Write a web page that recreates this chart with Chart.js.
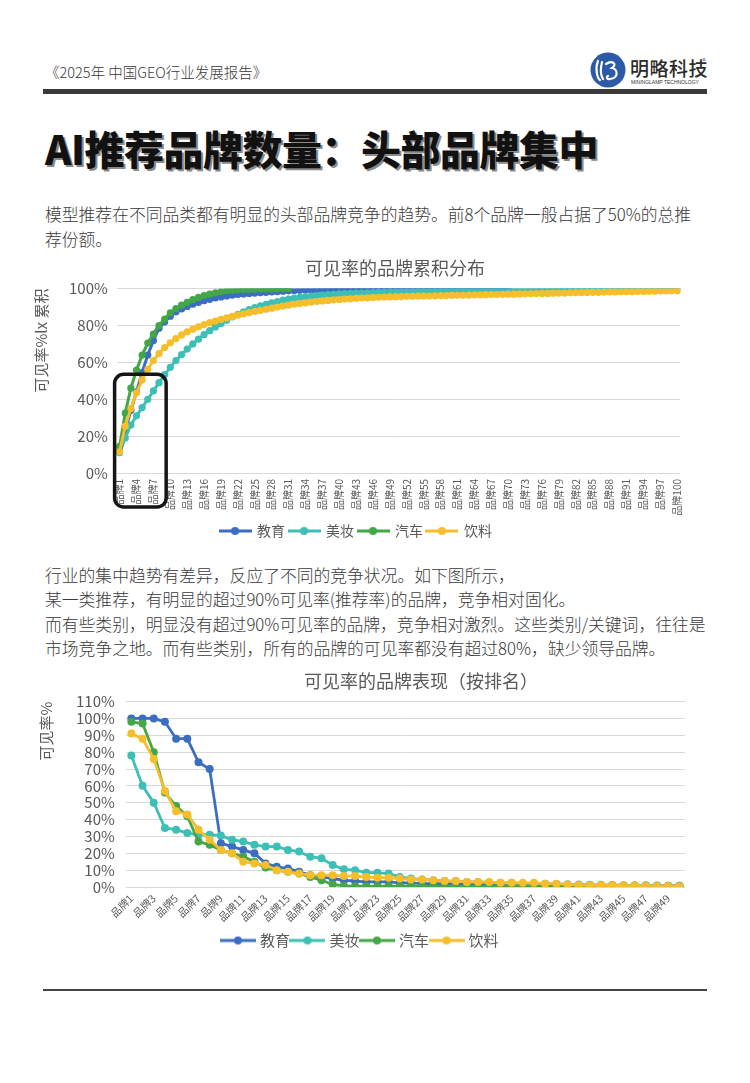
<!DOCTYPE html>
<html lang="zh-CN">
<head>
<meta charset="utf-8">
<title>可见率的品牌分布</title>
<script src="https://cdn.jsdelivr.net/npm/chart.js@4.4.1/dist/chart.umd.min.js"></script>
<style>
  html, body { margin: 0; padding: 0; background: #fff; }
  body {
    width: 750px; height: 1083px; position: relative; overflow: hidden;
    font-family: "Noto Sans CJK SC", "Noto Sans", sans-serif; color: #3a3a3a;
  }
  .report { position: absolute; left: 45px; top: 62px; font-size: 14.5px; line-height: 20px; font-weight: 300; color: #3a3a3a; }
  .logo { position: absolute; left: 590px; top: 52px; }
  .logo-name { position: absolute; left: 630px; top: 56px; font-size: 19px; line-height: 24px; font-weight: 500; color: #2b2b2b; letter-spacing: 0.5px; }
  .logo-reg { position: absolute; left: 702px; top: 55px; font-size: 8px; color: #555; }
  .logo-en { position: absolute; left: 631px; top: 80px; font-size: 10px; line-height: 10px; color: #333; transform: scale(0.5); transform-origin: left top; white-space: nowrap; font-family: "Liberation Sans", sans-serif; }
  .topbar { position: absolute; left: 43px; top: 89px; width: 664px; height: 5px; background: #3a3a3a; }
  h1 {
    position: absolute; left: 45px; top: 124px; margin: 0; font-size: 40px; line-height: 48px;
    font-weight: 900; letter-spacing: -0.5px; color: #111; text-shadow: 2px 2px 0 #8a8a8a; white-space: nowrap;
  }
  .para { position: absolute; left: 45px; margin: 0; font-size: 16.8px; font-weight: 300; color: #3a3a3a; white-space: nowrap; }
  .p1 { top: 202px; line-height: 25px; }
  .p2 { top: 563px; line-height: 24.3px; }
  canvas.chart { position: absolute; }
  #cumChart { left: 20px; top: 255px; }
  #rankChart { left: 20px; top: 668px; }
  .footrule { position: absolute; left: 43px; top: 989px; width: 664px; height: 1.5px; background: #444; }
</style>
</head>
<body>
<div class="report">《2025年 中国GEO行业发展报告》</div>
<svg class="logo" width="36" height="36" viewBox="0 0 36 36">
  <circle cx="18" cy="18" r="17.5" fill="#2c5aa6"/>
  <path d="M8 9 C5 16, 7 26, 10 28 M12 10 C10 18, 11 24, 13 27 M16 12 C22 8, 28 12, 22 16 C28 17, 29 26, 20 27 C17 28, 16 25, 18 24"
        fill="none" stroke="#fff" stroke-width="2.2" stroke-linecap="round"/>
</svg>
<div class="logo-name">明略科技</div>
<div class="logo-reg">®</div>
<div class="logo-en">MININGLAMP TECHNOLOGY</div>
<div class="topbar"></div>

<h1>AI推荐品牌数量：头部品牌集中</h1>

<p class="para p1">模型推荐在不同品类都有明显的头部品牌竞争的趋势。前8个品牌一般占据了50%的总推<br>荐份额。</p>

<canvas id="cumChart" class="chart" width="676" height="293"></canvas>

<p class="para p2">行业的集中趋势有差异，反应了不同的竞争状况。如下图所示，<br>某一类推荐，有明显的超过90%可见率(推荐率)的品牌，竞争相对固化。<br>而有些类别，明显没有超过90%可见率的品牌，竞争相对激烈。这些类别/关键词，往往是<br>市场竞争之地。而有些类别，所有的品牌的可见率都没有超过80%，缺少领导品牌。</p>

<canvas id="rankChart" class="chart" width="676" height="290"></canvas>

<div class="footrule"></div>

<script>
/* ─── DATA ───────────────────────────────────────────── */
const seriesNames = ["教育", "美妆", "汽车", "饮料"];
const seriesColors = ["#3b6dc1", "#3dbfb6", "#43a747", "#f6be2b"];

// chart 1: cumulative share of visibility (%), brands ranked 1..100
const cumBrands = Array.from({ length: 100 }, (_, i) => "品牌" + (i + 1));
const cumEdu = [
  12, 23, 34, 44, 54.5, 64, 71.8, 78.5, 82, 85,
  87.5, 89, 90.3, 91.5, 92.5, 93.4, 94.2, 94.9, 95.5, 96,
  96.4, 96.8, 97.1, 97.4, 97.6, 97.8, 98, 98.2, 98.4, 98.6,
  98.8, 99, 99.1, 99.2, 99.3, 99.3, 99.4, 99.4, 99.5, 99.5,
  99.6, 99.6, 99.6, 99.7, 99.7, 99.7, 99.7, 99.8, 99.8, 99.8,
  99.8, 99.8, 99.8, 99.9, 99.9, 99.9, 99.9, 99.9, 99.9, 99.9,
  99.9, 100, 100, 100, 100, 100, 100, 100, 100, 100
];
const cumCos = [
  11, 19, 26, 31, 35.5, 40, 44.5, 49, 53.4, 57.3,
  61, 64.2, 67.2, 70, 72.6, 75, 77.2, 79.2, 81.1, 82.9,
  84.6, 86.1, 87.4, 88.6, 89.7, 90.6, 91.5, 92.3, 93, 93.7,
  94.3, 94.8, 95.2, 95.6, 95.9, 96.2, 96.5, 96.7, 96.9, 97.1,
  97.3, 97.4, 97.5, 97.6, 97.7, 97.8, 97.9, 98, 98.1, 98.2,
  98.3, 98.3, 98.4, 98.4, 98.5, 98.5, 98.6, 98.6, 98.7, 98.7,
  98.8, 98.8, 98.9, 98.9, 99, 99, 99, 99.1, 99.1, 99.2,
  99.2, 99.3, 99.3, 99.3, 99.4, 99.4, 99.4, 99.5, 99.5, 99.5,
  99.5, 99.6, 99.6, 99.6, 99.6, 99.7, 99.7, 99.7, 99.7, 99.8,
  99.8, 99.8, 99.8, 99.9, 99.9, 99.9, 99.9, 100, 100, 100
];
const cumCar = [
  14.5, 32.5, 46, 55.8, 64, 70.5, 75.3, 80, 83.5, 86.8,
  89.1, 91, 92.6, 94, 95.2, 96.2, 97, 97.7, 98.3, 98.8,
  99.1, 99.3, 99.5, 99.6, 99.7, 99.8, 99.8, 99.9, 99.9, 100,
  100
];
const cumBev = [
  11.5, 25.4, 35, 43.5, 50.5, 56.2, 61, 64.8, 68, 70.6,
  72.9, 74.9, 76.6, 78, 79.3, 80.5, 81.5, 82.4, 83.3, 84.1,
  84.9, 85.6, 86.3, 87, 87.6, 88.2, 88.8, 89.4, 90, 90.5,
  91, 91.5, 91.9, 92.3, 92.7, 93, 93.3, 93.6, 93.9, 94.1,
  94.3, 94.5, 94.7, 94.9, 95, 95.2, 95.3, 95.4, 95.5, 95.6,
  95.7, 95.8, 95.8, 95.9, 96, 96, 96.1, 96.2, 96.2, 96.3,
  96.4, 96.4, 96.5, 96.6, 96.6, 96.7, 96.8, 96.8, 96.9, 97,
  97, 97.1, 97.2, 97.2, 97.3, 97.4, 97.4, 97.5, 97.6, 97.6,
  97.7, 97.8, 97.8, 97.9, 98, 98, 98.1, 98.2, 98.2, 98.3,
  98.4, 98.4, 98.5, 98.5, 98.6, 98.6, 98.7, 98.7, 98.8, 98.8
];
const cumTicks = [0, 20, 40, 60, 80, 100];

// chart 2: visibility rate (%) by rank, brands 1..50
const rankBrands = Array.from({ length: 50 }, (_, i) => "品牌" + (i + 1));
const rankEdu = [
  100, 100, 100, 98, 88, 88, 74, 70, 26, 24,
  22, 20, 14, 12, 11, 9, 7, 6, 5, 4,
  3.5, 3, 3, 3, 2.5, 2.5, 2, 2, 2, 2,
  1.8, 1.8, 1.6, 1.5, 1.5, 1.4, 1.3, 1.2, 1.2, 1.1,
  1, 1, 0.9, 0.9, 0.8, 0.8, 0.8, 0.7, 0.7, 0.7
];
const rankCos = [
  78, 60, 50, 35, 34, 32, 31, 31, 30.5, 28,
  27, 25, 24, 24, 22, 21, 18, 17, 13, 10.5,
  10, 8.5, 8.5, 8, 6, 5, 4.5, 4, 3.5, 3.5,
  3, 3, 2.5, 2.5, 2.5, 2, 2, 2, 1.8, 1.6,
  1.5, 1.4, 1.3, 1.2, 1.1, 1, 1, 0.9, 0.8, 0.8
];
const rankCar = [
  98, 97, 80, 56, 48, 42, 27, 25, 22, 20,
  18, 15, 11.5, 10, 9, 8, 6, 4, 1.5, 0.7,
  0.5, 0.5, 0.5, 0.5, 0.5, 0.5, 0.5, 0.5, 0.5, 0.5,
  0.5, 0.5, 0.5, 0.5, 0.5, 0.5, 0.4, 0.4, 0.4, 0.4,
  0.4, 0.4, 0.4, 0.4, 0.3, 0.3, 0.3, 0.3, 0.3, 0.3
];
const rankBev = [
  91, 88, 76, 57, 45, 43, 34, 28, 22, 20,
  15, 14, 13, 10, 9, 8, 7, 7, 7, 6.5,
  6.5, 6, 5.5, 5.5, 5, 4.5, 4.5, 4, 3.5, 3.5,
  3, 3, 3, 2.5, 2.5, 2.5, 2.5, 2, 2, 1.5,
  1.2, 1, 1, 0.9, 0.8, 0.8, 0.7, 0.6, 0.6, 0.5
];
const rankTicks = [0, 10, 20, 30, 40, 50, 60, 70, 80, 90, 100, 110];

/* ─── HELPERS ────────────────────────────────────────── */
Chart.defaults.font.family = "'Noto Sans CJK SC', 'Noto Sans', sans-serif";
Chart.defaults.color = "#595959";
Chart.defaults.animation = false;

function makeSeries(values, idx, radius, width) {
  const color = seriesColors[idx];
  return {
    label: seriesNames[idx],
    data: values,
    order: 3 - idx,               // later series on top, like the original
    borderColor: color,
    backgroundColor: color,
    pointBackgroundColor: color,
    pointBorderColor: color,
    pointBorderWidth: 0,
    pointRadius: radius,
    pointHoverRadius: radius,
    borderWidth: width,
    tension: 0,
    fill: false,
  };
}

// line-with-dot legend marker
function legendIcon(color, w, r, lw) {
  const c = document.createElement("canvas");
  c.width = w;
  c.height = r * 2 + 2;
  const g = c.getContext("2d");
  g.strokeStyle = color;
  g.lineWidth = lw;
  g.beginPath();
  g.moveTo(0, c.height / 2);
  g.lineTo(w, c.height / 2);
  g.stroke();
  g.fillStyle = color;
  g.beginPath();
  g.arc(w / 2, c.height / 2, r, 0, Math.PI * 2);
  g.fill();
  return c;
}

function legendOptions(iconW, boxW, r, lw, size, pad) {
  const icons = seriesColors.map(c => legendIcon(c, iconW, r, lw));
  return {
    position: "bottom",
    labels: {
      usePointStyle: true,
      pointStyleWidth: boxW,
      padding: pad,
      color: "#595959",
      font: { size: size },
      sort: (a, b) => a.datasetIndex - b.datasetIndex,
      generateLabels(chart) {
        const items = Chart.defaults.plugins.legend.labels.generateLabels(chart);
        items.forEach(it => { it.pointStyle = icons[it.datasetIndex]; });
        return items;
      },
    },
  };
}

// move the title sideways so it sits where the original has it
const titleShift = {
  id: "titleShift",
  afterLayout(chart, args, opts) {
    const t = chart.titleBlock;
    if (t && opts.dx) { t.left += opts.dx; t.right += opts.dx; }
  },
};

// black rounded frame around the first brands
const focusBox = {
  id: "focusBox",
  afterDraw(chart, args, opts) {
    if (!opts.show) return;
    const { ctx, chartArea, scales: { x, y } } = chart;
    const left = x.getPixelForValue(0) - 5;
    const right = x.getPixelForValue(8) + 1.5;
    const top = y.getPixelForValue(53.5);
    const bottom = chartArea.bottom + 34;
    ctx.save();
    ctx.lineWidth = 3.5;
    ctx.strokeStyle = "#151515";
    ctx.beginPath();
    ctx.roundRect(left, top, right - left, bottom - top, 9);
    ctx.stroke();
    ctx.restore();
  },
};

/* ─── CHART 1: 累积分布 ──────────────────────────────── */
new Chart(document.getElementById("cumChart"), {
  type: "line",
  data: {
    labels: cumBrands,
    datasets: [
      makeSeries(cumEdu, 0, 3.6, 3),
      makeSeries(cumCos, 1, 3.6, 3),
      makeSeries(cumCar, 2, 3.6, 3),
      makeSeries(cumBev, 3, 3.6, 3),
    ],
  },
  plugins: [titleShift, focusBox],
  options: {
    responsive: false,
    layout: { padding: { left: 12, right: 16, top: 0, bottom: 0 } },
    plugins: {
      title: {
        display: true,
        text: "可见率的品牌累积分布",
        color: "#595959",
        font: { size: 18, weight: "normal" },
        padding: { top: 2, bottom: 10 },
      },
      titleShift: { dx: 39 },
      focusBox: { show: true },
      legend: legendOptions(33, 30, 4, 3, 14, 4),
      tooltip: { enabled: false },
    },
    scales: {
      x: {
        offset: true,
        grid: { display: false, drawTicks: false },
        border: { display: false },
        afterFit: s => { s.height = 47; },
        ticks: {
          autoSkip: false,
          minRotation: 90,
          maxRotation: 90,
          padding: 6,
          font: { size: 10 },
          callback(v, i) { return i % 3 === 0 ? this.getLabelForValue(v) : ""; },
        },
      },
      y: {
        min: 0,
        max: 100,
        afterBuildTicks: axis => { axis.ticks = cumTicks.map(v => ({ value: v })); },
        grid: { color: "#d9d9d9", drawTicks: false },
        border: { display: false },
        ticks: { autoSkip: false, padding: 9, font: { size: 15 }, callback: v => v + "%" },
        title: {
          display: true,
          text: "可见率%lx 累积",
          align: "end",
          color: "#595959",
          font: { size: 15 },
          padding: { top: 0, bottom: 10 },
        },
      },
    },
  },
});

/* ─── CHART 2: 按排名 ────────────────────────────────── */
new Chart(document.getElementById("rankChart"), {
  type: "line",
  data: {
    labels: rankBrands,
    datasets: [
      makeSeries(rankEdu, 0, 4, 2.8),
      makeSeries(rankCos, 1, 4, 2.8),
      makeSeries(rankCar, 2, 4, 2.8),
      makeSeries(rankBev, 3, 4, 2.8),
    ],
  },
  plugins: [titleShift],
  options: {
    responsive: false,
    layout: { padding: { left: 17, right: 11, top: 0, bottom: 0 } },
    plugins: {
      title: {
        display: true,
        text: "可见率的品牌表现（按排名）",
        color: "#595959",
        font: { size: 18, weight: "normal" },
        padding: { top: 2, bottom: 10 },
      },
      titleShift: { dx: 60 },
      legend: legendOptions(36, 29, 4, 3, 15, 3),
      tooltip: { enabled: false },
    },
    scales: {
      x: {
        offset: true,
        grid: { display: false, drawTicks: false },
        border: { display: false },
        afterFit: s => { s.height = 43; },
        ticks: {
          autoSkip: false,
          minRotation: 45,
          maxRotation: 45,
          padding: 5,
          font: { size: 10.5 },
          callback(v, i) { return i % 2 === 0 ? this.getLabelForValue(v) : ""; },
        },
      },
      y: {
        min: 0,
        max: 110,
        afterBuildTicks: axis => { axis.ticks = rankTicks.map(v => ({ value: v })); },
        grid: { color: "#d9d9d9", drawTicks: false },
        border: { display: false },
        ticks: { autoSkip: false, padding: 11, font: { size: 15 }, callback: v => v + "%" },
        title: {
          display: true,
          text: "可见率%",
          align: "end",
          color: "#595959",
          font: { size: 15 },
          padding: { top: 0, bottom: 10 },
        },
      },
    },
  },
});
</script>
</body>
</html>
